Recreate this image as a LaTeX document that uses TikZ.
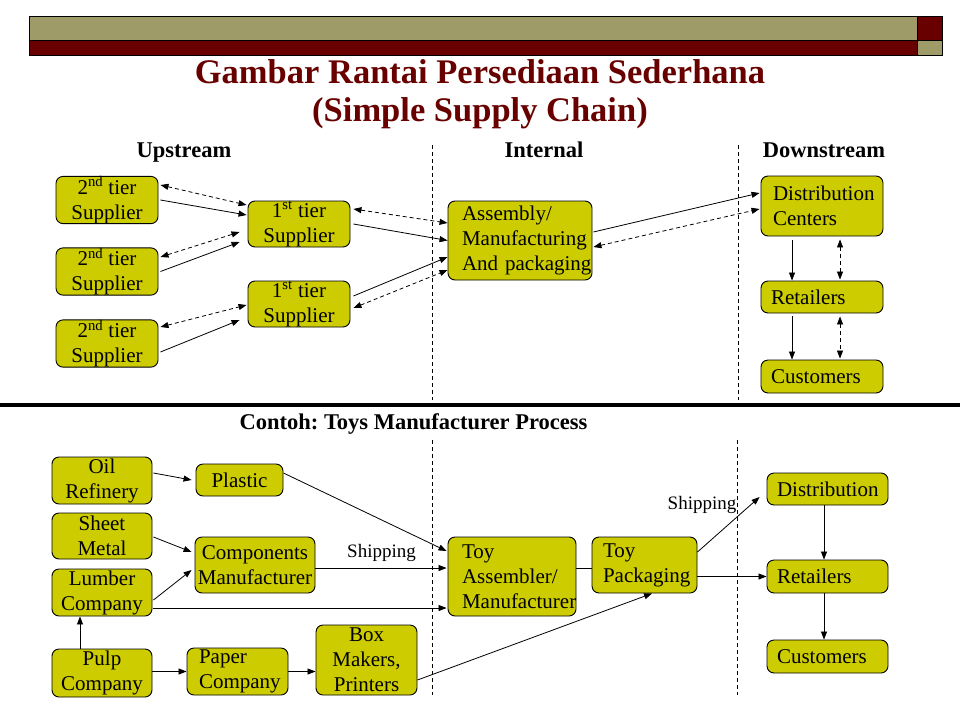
\documentclass[tikz,border=0pt]{standalone}
\usepackage{fontspec}
\setmainfont{Liberation Serif}
\usetikzlibrary{arrows.meta,calc}
\definecolor{boxfill}{RGB}{204,204,0}
\definecolor{olivebar}{RGB}{158,155,104}
\definecolor{darkred}{RGB}{104,0,0}
\frenchspacing
\hyphenpenalty=10000
\exhyphenpenalty=10000
\begin{document}
\begin{tikzpicture}[x=1pt,y=-1pt,
  box/.style={draw=black, line width=0.9pt, fill=boxfill, rounded corners=7pt,
    inner sep=0pt, font=\fontsize{21}{25}\selectfont, align=center,
    execute at begin node={\hyphenpenalty=10000 \exhyphenpenalty=10000 }},
  lbox/.style={box, align=left},
  tip/.tip={Triangle[length=8pt,width=6pt]},
  arr/.style={-tip, line width=0.8pt},
  plain/.style={line width=0.8pt},
  darr/.style={tip-tip, dash pattern=on 4pt off 3pt, line width=0.8pt},
  sepline/.style={dash pattern=on 4pt off 3pt, line width=0.8pt},
  head/.style={font=\fontsize{22.5}{26}\bfseries\selectfont, anchor=base, inner sep=0pt},
  title/.style={font=\fontsize{34.5}{40}\bfseries\selectfont, text=darkred, anchor=base, inner sep=0pt},
  shiplabel/.style={font=\fontsize{19}{22}\selectfont, inner sep=0pt}
]
\useasboundingbox (0,0) rectangle (960,720);

% header bars
\fill[olivebar] (29,16) rectangle (917,40.5);
\fill[darkred] (29,40.5) rectangle (917,55.5);
\fill[darkred] (917,16) rectangle (942,40.5);
\fill[olivebar] (917,40.5) rectangle (942,55.5);
\draw[line width=0.9pt] (29,16) rectangle (942,55.5);
\draw[line width=0.9pt] (29,40.5) -- (942,40.5);
\draw[line width=0.9pt] (917,16) -- (917,55.5);

% titles
\node[title] (t1) at (480,83) {Gambar Rantai Persediaan Sederhana};
\node[title] (t2) at (480,121) {(Simple Supply Chain)};

\node[head] (hup) at (184,157) {Upstream};
\node[head] (hin) at (544,157) {Internal};
\node[head] (hdown) at (824,157) {Downstream};

% separators
\coordinate (v1a) at (432,145); \coordinate (v1b) at (432,400);
\coordinate (v2a) at (738,145); \coordinate (v2b) at (738,400);
\draw[sepline] (v1a) -- (v1b);
\draw[sepline] (v2a) -- (v2b);
\coordinate (hla) at (0,405); \coordinate (hlb) at (960,405);
\draw[line width=4pt] (hla) -- (hlb);
\coordinate (v3a) at (432,440); \coordinate (v3b) at (432,695);
\coordinate (v4a) at (737,440); \coordinate (v4b) at (737,695);
\draw[sepline] (v3a) -- (v3b);
\draw[sepline] (v4a) -- (v4b);

\node[head] (contoh) at (413.5,429) {Contoh: Toys Manufacturer Process};

% ---------- top nodes
\node[box, minimum width=102pt, minimum height=46pt] (s21) at (107,200) {2\textsuperscript{nd} tier\\Supplier};
\node[box, minimum width=102pt, minimum height=47pt] (s22) at (107,271.5) {2\textsuperscript{nd} tier\\Supplier};
\node[box, minimum width=102pt, minimum height=47pt] (s23) at (107,343.5) {2\textsuperscript{nd} tier\\Supplier};
\node[box, minimum width=102pt, minimum height=46pt] (f1a) at (299,224) {1\textsuperscript{st} tier\\Supplier};
\node[box, minimum width=102pt, minimum height=46pt] (f1b) at (299,304) {1\textsuperscript{st} tier\\Supplier};
\node[lbox, text width=116pt, inner xsep=14pt, minimum height=79pt] (asm) at (520,240.5) {Assembly/\\Manufacturing\\And~packaging};
\node[lbox, text width=98pt, inner xsep=12pt, minimum height=60pt] (dc) at (822,206) {Distribution\\Centers};
\node[lbox, text width=102pt, inner xsep=10pt, minimum height=32pt] (ret) at (822,297) {Retailers};
\node[lbox, text width=102pt, inner xsep=10pt, minimum height=33pt] (cus) at (822,376.5) {Customers};

% top connectors
\draw[arr] ([xshift=2pt]s21.east) -- ([xshift=-1pt,yshift=9pt]f1a.west);
\draw[darr] ([xshift=2pt,yshift=15pt]s21.east) -- ([xshift=-1pt,yshift=19pt]f1a.west);
\draw[darr] ([xshift=2pt,yshift=14.5pt]s22.east) -- ([xshift=-8pt,yshift=-8pt]f1a.west);
\draw[arr] ([xshift=2pt]s22.east) -- ([xshift=-8pt,yshift=-18pt]f1a.west);
\draw[darr] ([xshift=2pt,yshift=16.5pt]s23.east) -- ([xshift=-1pt,yshift=-1pt]f1b.west);
\draw[arr] ([xshift=2pt,yshift=-8.5pt]s23.east) -- ([xshift=-8pt,yshift=-16pt]f1b.west);

\draw[darr] ([xshift=3pt,yshift=15pt]f1a.east) -- ([yshift=17.5pt]asm.west);
\draw[arr] ([xshift=3pt]f1a.east) -- (asm.west);
\draw[arr] ([xshift=3pt,yshift=8pt]f1b.east) -- ([yshift=-16.5pt]asm.west);
\draw[darr] ([xshift=3pt,yshift=-4pt]f1b.east) -- ([yshift=-29.5pt]asm.west);

\draw[arr] ([xshift=1pt,yshift=8.5pt]asm.east) -- ([xshift=-1pt,yshift=13pt]dc.west);
\draw[darr] ([xshift=1pt,yshift=-6.5pt]asm.east) -- ([xshift=-1pt,yshift=-3pt]dc.west);

\draw[arr, shorten <=4pt] ([xshift=-30pt]dc.south) -- ([xshift=-30pt]ret.north);
\draw[darr, shorten <=3pt, shorten >=1pt] ([xshift=18pt]dc.south) -- ([xshift=18pt]ret.north);
\draw[arr, shorten <=3pt] ([xshift=-30pt]ret.south) -- ([xshift=-30pt]cus.north);
\draw[darr, shorten <=3pt, shorten >=1pt] ([xshift=18pt]ret.south) -- ([xshift=18pt]cus.north);

% ---------- bottom nodes
\node[box, minimum width=100pt, minimum height=47pt] (oil) at (102,480.5) {Oil\\Refinery};
\node[box, minimum width=87pt, minimum height=32pt] (pla) at (239.5,480) {Plastic};
\node[box, minimum width=100pt, minimum height=46pt] (she) at (102,536) {Sheet\\Metal};
\node[box, minimum width=120pt, minimum height=56pt] (com) at (255,565) {Components\\Manufacturer};
\node[box, minimum width=100pt, minimum height=47pt] (lum) at (102,592.5) {Lumber\\Company};
\node[box, minimum width=100pt, minimum height=48pt] (pul) at (102,673) {Pulp\\Company};
\node[lbox, text width=77pt, inner xsep=12pt, minimum height=47pt] (pap) at (237.5,671.5) {Paper\\Company};
\node[box, minimum width=101pt, minimum height=70pt] (bxm) at (366.5,660) {Box\\Makers,\\Printers};
\node[lbox, text width=100pt, inner xsep=14pt, minimum height=79pt] (toy) at (512,576.5) {Toy\\Assembler/\\Manufacturer};
\node[lbox, text width=83pt, inner xsep=11pt, minimum height=56pt] (pak) at (644.5,565) {Toy\\Packaging};
\node[lbox, text width=101pt, inner xsep=10pt, minimum height=32pt] (dis) at (827.5,489) {Distribution};
\node[lbox, text width=101pt, inner xsep=10pt, minimum height=33pt] (ret2) at (827.5,576.5) {Retailers};
\node[lbox, text width=101pt, inner xsep=10pt, minimum height=33pt] (cus2) at (827.5,656.5) {Customers};

\node[shiplabel] (ship1) at (381.5,553) {Shipping};
\node[shiplabel] (ship2) at (702,505) {Shipping};

% bottom connectors
\draw[arr] ([xshift=1pt,yshift=7.5pt]oil.east) -- ([xshift=-4pt]pla.west);
\draw[arr] ([yshift=7pt]pla.east) -- ([xshift=-1pt,yshift=25.5pt]toy.west);
\draw[arr] ([xshift=1pt,yshift=-1pt]she.east) -- ([xshift=-3pt,yshift=13pt]com.west);
\draw[arr] ([xshift=1pt,yshift=-7.5pt]lum.east) -- ([xshift=-3pt,yshift=-5pt]com.west);
\draw[arr] ([yshift=-3pt]com.east) -- ([xshift=-1pt,yshift=8.5pt]toy.west);
\draw[arr] ([xshift=1pt,yshift=-15.5pt]lum.east) -- ([xshift=-1pt,yshift=-31.5pt]toy.west);
\draw[arr] ([xshift=-22pt]pul.north) -- ([xshift=-22pt]lum.south);
\draw[arr] (pap.west -| pul.east) -- (pap.west);
\draw[arr] (pap.east) -- (pap.east -| bxm.west);
\draw[arr] ([yshift=-20pt]bxm.east) -- ([xshift=7.5pt]pak.south);
\draw[plain] ([yshift=8.5pt]toy.east) -- ([yshift=-3pt]pak.west);
\draw[arr] ([yshift=13pt]pak.east) -- ([xshift=-7pt,yshift=-8pt]dis.west);
\draw[arr] (ret2.west -| pak.east) -- (ret2.west);
\draw[arr] ([xshift=-3.5pt]dis.south) -- ([xshift=-3.5pt]ret2.north);
\draw[arr] ([xshift=-3.5pt]ret2.south) -- ([xshift=-3.5pt]cus2.north);
\end{tikzpicture}
\end{document}
